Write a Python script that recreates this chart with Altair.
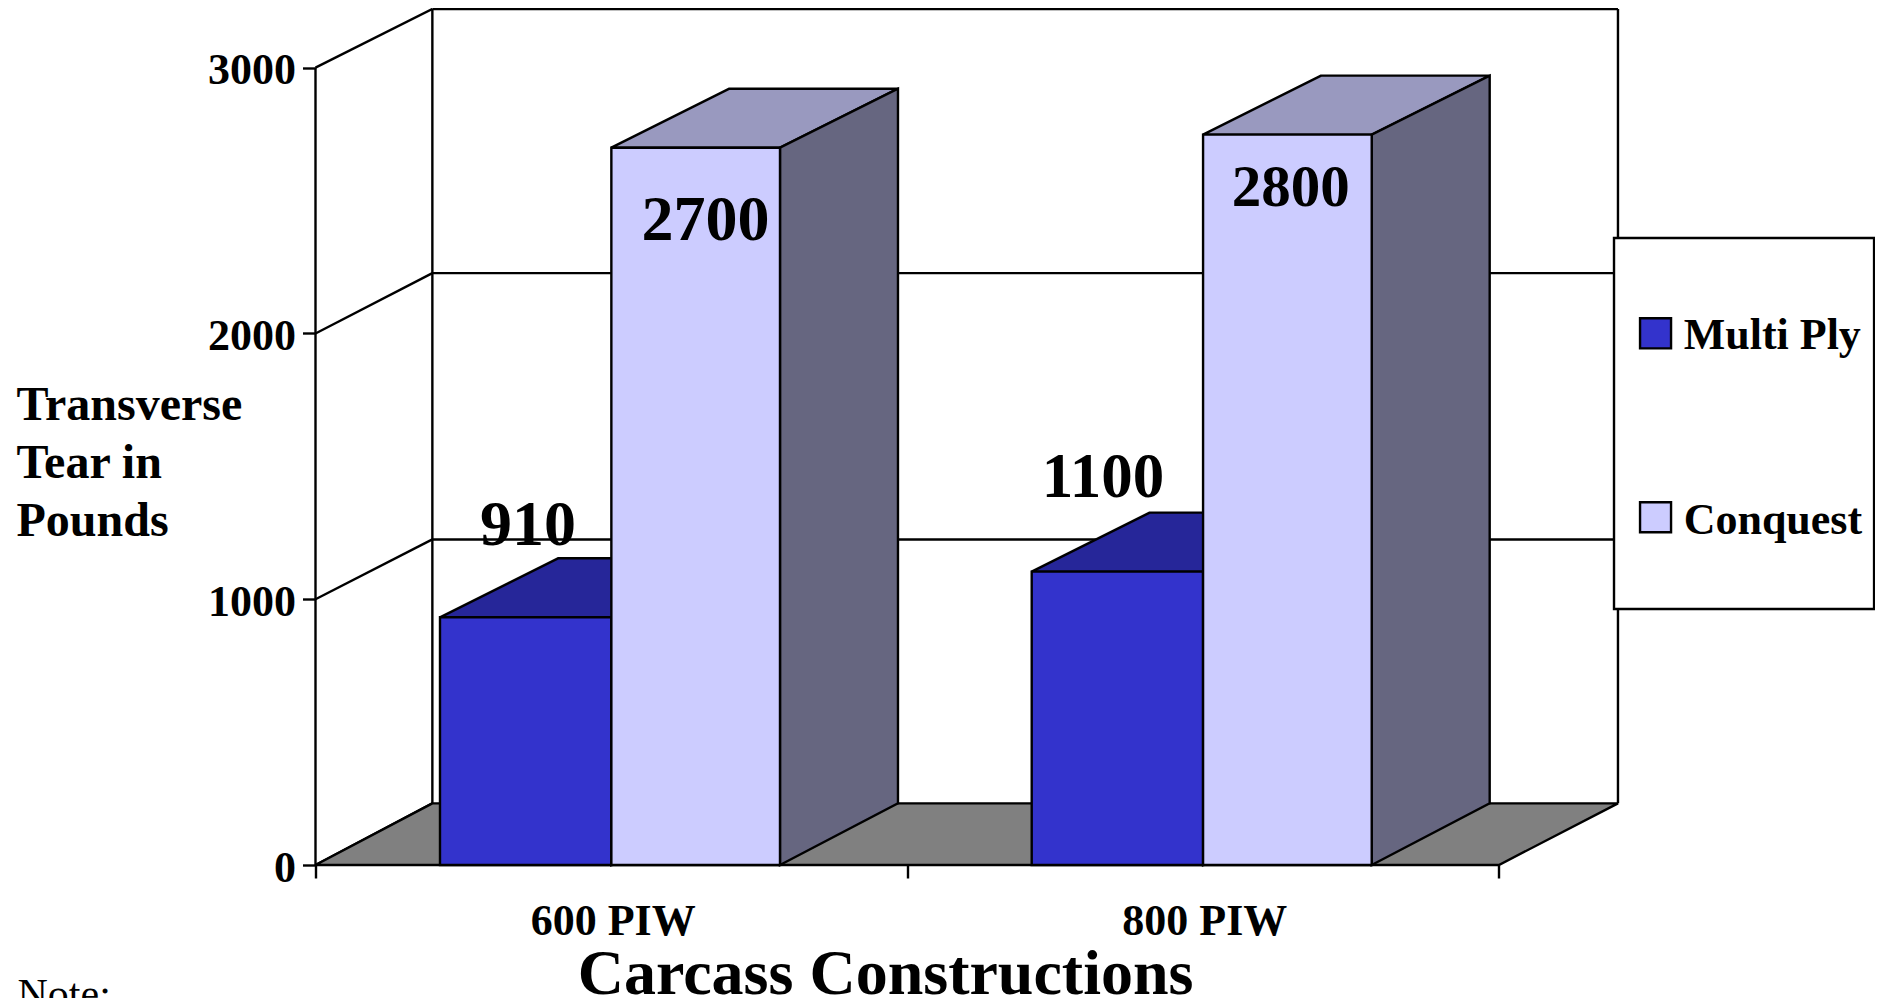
import altair as alt
import pandas as pd

# ---- values ----
CATEGORIES = ["600 PIW", "800 PIW"]
SERIES = ["Multi Ply", "Conquest"]
LABELS = {"Multi Ply": [910, 1100], "Conquest": [2700, 2800]}
HEIGHTS = {"Multi Ply": [932, 1104], "Conquest": [2699, 2748]}
Y_TICKS = [0, 1000, 2000, 3000]
X_TICKS = [0, 1, 2]
# where each value label sits, in axis units
LABEL_X = {"Multi Ply": [0.359, 1.331], "Conquest": [0.659, 1.648]}
LABEL_Y = {"Multi Ply": [1204, 1385], "Conquest": [2350, 2481]}
LABEL_SIZE = {"Multi Ply": [64, 63], "Conquest": [64, 59]}
BACK_LEVELS = [232, 1225, 2227, 3221]

# ---- styles / geometry in axis units ----
FRONT = {"Multi Ply": "#3333CC", "Conquest": "#CCCCFF"}
TOP = {"Multi Ply": "#262699", "Conquest": "#9999BF"}
SIDE = {"Multi Ply": "#262666", "Conquest": "#666680"}
FLOOR = "#808080"
FONT = "Liberation Serif"
SW = 2.4
BAR_LEFT = {"Multi Ply": 0.2104, "Conquest": 0.5}
BAR_RIGHT = {"Multi Ply": 0.5, "Conquest": 0.785}
DX = 0.1994
WALL_L = 0.1975
WALL_R = 2.2012
DY_TOP = 222
DY_BOTTOM = 232
XDOM = [0, 2.2004]
YDOM = [0, 3224.6]
W, H = 1302, 857

xs = alt.Scale(domain=XDOM, nice=False, zero=False)
ys = alt.Scale(domain=YDOM, nice=False, zero=False)


def X(f):
    return alt.X(f, type="quantitative", scale=xs, axis=None, stack=None)


def Y(f):
    return alt.Y(f, type="quantitative", scale=ys, axis=None, stack=None)


# axes, carried by an invisible layer
axes = alt.Chart(pd.DataFrame({"x": [0], "y": [0]})).mark_point(opacity=0).encode(
    x=alt.X("x:Q", scale=xs, axis=alt.Axis(
        values=X_TICKS, labels=False, domain=False, grid=False, tickSize=13,
        tickWidth=SW, tickColor="black", title="Carcass Constructions",
        titleFont=FONT, titleFontSize=64, titleFontWeight="bold", titleColor="black",
        titleX=569.6, titleY=128, titleBaseline="alphabetic", titleAlign="center")),
    y=alt.Y("y:Q", scale=ys, axis=alt.Axis(
        values=Y_TICKS, format="d", domain=False, grid=False, tickSize=13,
        tickWidth=SW, tickColor="black", labelFont=FONT, labelFontSize=44,
        labelFontWeight="bold", labelColor="black", labelPadding=7, labelOffset=3,
        title=["Transverse", "Tear in", "Pounds"], titleFont=FONT, titleFontSize=48,
        titleFontWeight="bold", titleColor="black", titleAngle=0, titleAlign="left",
        titleBaseline="alphabetic", titleX=-299.5, titleY=411, titleLineHeight=58)),
)

# walls
back = pd.DataFrame({"x": [WALL_L] * 3, "y": BACK_LEVELS[1:]})
back["x2"] = WALL_R
back_rules = alt.Chart(back).mark_rule(color="black", strokeWidth=SW).encode(
    x=X("x"), x2="x2", y=Y("y"))
diag = pd.DataFrame({"x": [0] * 4, "x2": [WALL_L] * 4, "y": Y_TICKS, "y2": BACK_LEVELS})
diag_rules = alt.Chart(diag).mark_rule(color="black", strokeWidth=SW).encode(
    x=X("x"), x2="x2", y=Y("y"), y2="y2")
verts = pd.DataFrame({"x": [WALL_L, WALL_R, 0], "y": [BACK_LEVELS[0], BACK_LEVELS[0], 0],
                      "y2": [BACK_LEVELS[-1], BACK_LEVELS[-1], 3000]})
vert_rules = alt.Chart(verts).mark_rule(color="black", strokeWidth=SW).encode(
    x=X("x"), y=Y("y"), y2="y2")
floor_df = pd.DataFrame({"y": [0, BACK_LEVELS[0]], "x": [0, WALL_L], "x2": [2, WALL_R]})
floor = alt.Chart(floor_df).mark_area(
    orient="horizontal", fill=FLOOR, stroke="black", strokeWidth=SW, opacity=1
).encode(y=Y("y"), x=X("x"), x2="x2")

layers = [axes, back_rules, diag_rules, vert_rules, floor]

# bars
for s in SERIES:
    front_rows, top_rows, side_rows = [], [], []
    for i, c in enumerate(CATEGORIES):
        h = HEIGHTS[s][i]
        l, r = i + BAR_LEFT[s], i + BAR_RIGHT[s]
        front_rows.append({"cat": c, "series": s, "x": l, "x2": r, "y": 0, "y2": h})
        top_rows += [{"cat": c, "y": h, "x": l, "x2": r},
                     {"cat": c, "y": h + DY_TOP, "x": l + DX, "x2": r + DX}]
        side_rows += [{"cat": c, "x": r, "y": 0, "y2": h},
                      {"cat": c, "x": r + DX, "y": DY_BOTTOM, "y2": h + DY_TOP}]
    top = alt.Chart(pd.DataFrame(top_rows)).mark_area(
        orient="horizontal", fill=TOP[s], stroke="black", strokeWidth=SW, opacity=1
    ).encode(y=Y("y"), x=X("x"), x2="x2", detail="cat:N")
    side = alt.Chart(pd.DataFrame(side_rows)).mark_area(
        orient="vertical", fill=SIDE[s], stroke="black", strokeWidth=SW, opacity=1
    ).encode(x=X("x"), y=Y("y"), y2="y2", detail="cat:N")
    front = alt.Chart(pd.DataFrame(front_rows)).mark_bar(
        stroke="black", strokeWidth=SW, opacity=1
    ).encode(
        x=X("x"), x2="x2", y=Y("y"), y2="y2",
        color=alt.Color("series:N", scale=alt.Scale(
            domain=SERIES, range=[FRONT[k] for k in SERIES]), legend=None),
    )
    layers += [top, side, front]

# value labels
for s in SERIES:
    lab = pd.DataFrame({"x": LABEL_X[s], "y": LABEL_Y[s], "t": LABELS[s], "fs": LABEL_SIZE[s]})
    for fs, sub in lab.groupby("fs"):
        layers.append(alt.Chart(sub).mark_text(
            font=FONT, fontSize=int(fs), fontWeight="bold", color="black",
            align="center", baseline="alphabetic"
        ).encode(x=X("x"), y=Y("y"), text="t:N"))

# category labels
cat_df = pd.DataFrame({"x": [0.503, 1.503], "y": [-263, -263], "t": CATEGORIES})
layers.append(alt.Chart(cat_df).mark_text(
    font=FONT, fontSize=44, fontWeight="bold", color="black",
    align="center", baseline="alphabetic"
).encode(x=X("x"), y=Y("y"), text="t:N"))

# note cut off by the bottom of the page
note_df = pd.DataFrame({"x": [-0.5036], "y": [-538], "t": ["Note:"]})
layers.append(alt.Chart(note_df).mark_text(
    font=FONT, fontSize=42, color="black", align="left", baseline="alphabetic"
).encode(x=X("x"), y=Y("y"), text="t:N"))

# legend frame, swatches and names
box_df = pd.DataFrame({"x": [2.1945], "x2": [2.634], "y": [963], "y2": [2359]})
box = alt.Chart(box_df).mark_rect(
    fill="white", stroke="black", strokeWidth=SW
).encode(x=X("x"), x2="x2", y=Y("y"), y2="y2")
layers.append(box)

leg_df = pd.DataFrame({"series": SERIES, "x": [2.2385, 2.2385], "x2": [2.2909, 2.2909],
                       "y": [1944, 1252], "y2": [2057, 1365], "tx": [2.3122, 2.3122],
                       "ty": [1941, 1245]})
layers.append(alt.Chart(leg_df).mark_rect(stroke="black", strokeWidth=SW).encode(
    x=X("x"), x2="x2", y=Y("y"), y2="y2",
    color=alt.Color("series:N", scale=alt.Scale(
        domain=SERIES, range=[FRONT[k] for k in SERIES]), legend=None)))
layers.append(alt.Chart(leg_df).mark_text(
    font=FONT, fontSize=44, fontWeight="bold", color="black",
    align="left", baseline="alphabetic"
).encode(x=X("tx"), y=Y("ty"), text="series:N"))

chart = alt.layer(*layers).resolve_axis(x="independent", y="independent").properties(
    width=W, height=H,
    padding={"left": 307.5, "top": 0, "right": 257.5, "bottom": 133},
    autosize=alt.AutoSizeParams(type="none"),
).configure(background="white", view=alt.ViewConfig(stroke="transparent"))

chart.save("out.html", embed_options={"renderer": "svg", "actions": False})
